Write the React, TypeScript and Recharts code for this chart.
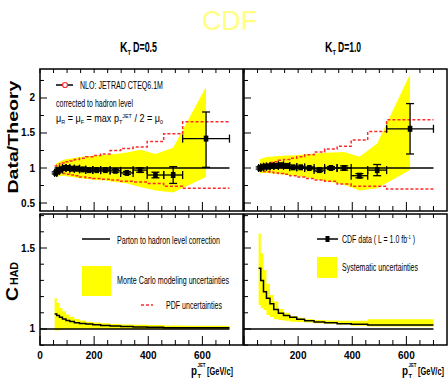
import React from "react";
import {
  Area,
  ComposedChart,
  ErrorBar,
  Line,
  ReferenceArea,
  Scatter,
  XAxis,
  YAxis,
} from "recharts";

const W = 448;
const H = 382;
const FONT = "'Liberation Sans Narrow', 'Liberation Sans', Arial, sans-serif";
const YELLOW = "#ffff00";
const RED = "#ff2a2a";

// pT bins [GeV/c]
const binEdges = [54, 62, 72, 83, 96, 110, 127, 146, 169, 195, 224, 259, 298, 344, 396, 457, 527, 700];
const binCenters = [58, 67, 77.5, 89.5, 103, 118.5, 136.5, 157.5, 182, 209.5, 241.5, 278.5, 321, 370, 426.5, 492, 613.5];
const nloRange = [54, 700];
const unityRange = [0, 700];

const xTicks = [0, 50, 100, 150, 200, 250, 300, 350, 400, 450, 500, 550, 600, 650, 700];
const xLabelsLeft = [0, 200, 400, 600];
const xLabelsRight = [200, 400, 600];
const ratioTicks = [0.5, 0.75, 1, 1.25, 1.5, 1.75, 2, 2.25];
const ratioLabels = [0.5, 1, 1.5, 2];
const chadTicks = [0.9, 1, 1.1, 1.2, 1.3, 1.4, 1.5, 1.6, 1.7];
const chadLabels = [1, 1.5];

// Data / Theory, kT D=0.5
const ratioD05 = [0.93, 0.96, 0.98, 1.0, 1.0, 0.99, 0.99, 0.98, 0.97, 0.97, 0.97, 0.96, 0.93, 0.97, 0.9, 0.9, 1.42];
const errD05Lo = [0.015, 0.015, 0.015, 0.015, 0.015, 0.015, 0.015, 0.015, 0.015, 0.015, 0.015, 0.02, 0.02, 0.03, 0.04, 0.12, 0.41];
const errD05Hi = [0.015, 0.015, 0.015, 0.015, 0.015, 0.015, 0.015, 0.015, 0.015, 0.015, 0.015, 0.02, 0.02, 0.03, 0.04, 0.12, 0.38];
const sysD05Lo = [0.86, 0.88, 0.89, 0.89, 0.88, 0.87, 0.86, 0.85, 0.84, 0.83, 0.82, 0.8, 0.78, 0.73, 0.68, 0.65, 0.87];
const sysD05Hi = [1.06, 1.08, 1.1, 1.12, 1.13, 1.14, 1.15, 1.16, 1.17, 1.18, 1.19, 1.2, 1.22, 1.26, 1.2, 1.29, 2.16];
const pdfD05Hi = [1.03, 1.04, 1.06, 1.07, 1.09, 1.1, 1.12, 1.14, 1.16, 1.18, 1.2, 1.25, 1.28, 1.3, 1.38, 1.49, 1.66];
const pdfD05Lo = [0.95, 0.94, 0.93, 0.92, 0.91, 0.9, 0.89, 0.87, 0.86, 0.85, 0.84, 0.83, 0.81, 0.8, 0.78, 0.74, 0.71];

// Data / Theory, kT D=1.0
const ratioD10 = [1.0, 1.01, 1.02, 1.02, 1.03, 1.03, 1.04, 1.03, 1.01, 1.01, 1.0, 0.97, 1.0, 1.0, 0.89, 0.97, 1.56];
const errD10Lo = [0.015, 0.015, 0.015, 0.015, 0.015, 0.015, 0.015, 0.015, 0.015, 0.015, 0.015, 0.02, 0.02, 0.03, 0.03, 0.08, 0.36];
const errD10Hi = [0.015, 0.015, 0.015, 0.015, 0.015, 0.015, 0.015, 0.015, 0.015, 0.015, 0.015, 0.02, 0.02, 0.03, 0.03, 0.08, 0.36];
const sysD10Lo = [0.92, 0.93, 0.93, 0.93, 0.92, 0.92, 0.91, 0.9, 0.89, 0.88, 0.86, 0.83, 0.8, 0.76, 0.68, 0.71, 0.97];
const sysD10Hi = [1.12, 1.14, 1.15, 1.16, 1.16, 1.17, 1.17, 1.18, 1.18, 1.19, 1.2, 1.21, 1.22, 1.23, 1.16, 1.35, 2.34];
const pdfD10Hi = [1.03, 1.04, 1.05, 1.06, 1.08, 1.09, 1.11, 1.12, 1.14, 1.16, 1.19, 1.23, 1.27, 1.31, 1.4, 1.52, 1.69];
const pdfD10Lo = [0.96, 0.955, 0.95, 0.945, 0.94, 0.93, 0.92, 0.91, 0.89, 0.87, 0.85, 0.83, 0.81, 0.77, 0.74, 0.74, 0.7];

// parton-to-hadron corrections
const chadD05 = [1.093, 1.083, 1.072, 1.062, 1.053, 1.046, 1.039, 1.034, 1.03, 1.026, 1.022, 1.018, 1.015, 1.012, 1.01, 1.008, 1.007];
const chadD05Lo = [0.99, 0.99, 0.995, 0.997, 1.0, 1.0, 1.0, 1.0, 1.0, 1.0, 1.0, 1.0, 1.0, 1.0, 1.0, 1.0, 1.0];
const chadD05Hi = [1.19, 1.16, 1.13, 1.11, 1.09, 1.075, 1.062, 1.052, 1.045, 1.04, 1.035, 1.03, 1.028, 1.026, 1.024, 1.022, 1.02];
const chadD10 = [1.375, 1.3, 1.23, 1.19, 1.155, 1.12, 1.097, 1.083, 1.072, 1.06, 1.05, 1.043, 1.039, 1.033, 1.029, 1.025, 1.025];
const chadD10Lo = [1.148, 1.128, 1.117, 1.086, 1.074, 1.06, 1.056, 1.05, 1.045, 1.043, 1.04, 1.035, 1.032, 1.028, 1.02, 1.016, 1.016];
const chadD10Hi = [1.59, 1.467, 1.364, 1.28, 1.21, 1.17, 1.123, 1.1, 1.08, 1.07, 1.06, 1.055, 1.052, 1.05, 1.051, 1.06, 1.06];

const last = (a: number[], i: number) => a[Math.min(i, a.length - 1)];

const pointRows = (vals: number[], lo: number[], hi: number[]) =>
  binCenters.map((pt, i) => ({
    pt,
    v: vals[i],
    ex: [pt - binEdges[i], binEdges[i + 1] - pt],
    ey: [lo[i], hi[i]],
  }));
const bandRows = (lo: number[], hi: number[]) =>
  binCenters.map((pt, i) => ({ pt, band: [lo[i], hi[i]] }));
const stepRows = (vals: number[]) => binEdges.map((pt, i) => ({ pt, v: last(vals, i) }));
const stepBandRows = (lo: number[], hi: number[]) =>
  binEdges.map((pt, i) => ({ pt, band: [last(lo, i), last(hi, i)] }));
const flatRows = (range: number[]) => range.map((pt) => ({ pt, v: 1 }));

function XTick(props: any) {
  const { x, y, payload, side, labels } = props;
  const v = payload.value;
  if (side === "top") {
    return <line x1={x} x2={x} y1={y} y2={y + 4} stroke="#000" />;
  }
  const major = v % 200 === 0;
  return (
    <g>
      <line x1={x} x2={x} y1={y} y2={y - (major ? 9 : 5)} stroke="#000" />
      {labels.includes(v) && (
        <text x={x} y={y + 14} textAnchor="middle" fontFamily={FONT} fontWeight="bold" fontSize={10} fill="#000">
          {v}
        </text>
      )}
    </g>
  );
}

function YTick(props: any) {
  const { x, y, payload, labels, show } = props;
  const v = payload.value;
  const major = labels.includes(v);
  return (
    <g>
      <line x1={x} x2={x + (major ? 7 : 4)} y1={y} y2={y} stroke="#000" />
      {show && major && (
        <text x={x - 5} y={y + 3.5} textAnchor="end" fontFamily={FONT} fontWeight="bold" fontSize={10} fill="#000">
          {v}
        </text>
      )}
    </g>
  );
}

const Square = (p: any) => <rect x={p.cx - 2.3} y={p.cy - 3} width={4.6} height={6} fill="#000" />;

function Panel(props: {
  box: number[];
  yDomain: [number, number];
  yTicks: number[];
  yLabels: number[];
  showY: boolean;
  xLabels: number[];
  children: React.ReactNode;
}) {
  const [l, t, r, b] = props.box;
  // axes get 1px each (a zero-sized axis is not drawn)
  return (
    <div style={{ position: "absolute", left: 0, top: 0 }}>
      <ComposedChart width={W} height={H} margin={{ left: l - 1, top: t - 1, right: W - r, bottom: H - b - 1 }}>
        <XAxis
          type="number"
          dataKey="pt"
          domain={[0, 750]}
          allowDataOverflow
          ticks={xTicks}
          interval={0}
          height={1}
          tickSize={0}
          tickMargin={0}
          axisLine={false}
          tickLine={false}
          tick={<XTick side="bottom" labels={props.xLabels} />}
        />
        <XAxis
          xAxisId="top"
          orientation="top"
          type="number"
          dataKey="pt"
          domain={[0, 750]}
          allowDataOverflow
          ticks={xTicks}
          interval={0}
          height={1}
          tickSize={0}
          tickMargin={0}
          axisLine={false}
          tickLine={false}
          tick={<XTick side="top" labels={[]} />}
        />
        <YAxis
          type="number"
          dataKey="v"
          domain={props.yDomain}
          allowDataOverflow
          ticks={props.yTicks}
          interval={0}
          width={1}
          tickSize={0}
          tickMargin={0}
          axisLine={false}
          tickLine={false}
          tick={<YTick labels={props.yLabels} show={props.showY} />}
        />
        {props.children}
        <ReferenceArea
          x1={0}
          x2={750}
          y1={props.yDomain[0]}
          y2={props.yDomain[1]}
          fill="none"
          stroke="#000"
          strokeWidth={1.5}
          ifOverflow="visible"
        />
      </ComposedChart>
    </div>
  );
}

function RatioSeries(p: { vals: number[]; lo: number[]; hi: number[]; sLo: number[]; sHi: number[]; pHi: number[]; pLo: number[] }) {
  return (
    <>
      <Area data={bandRows(p.sLo, p.sHi)} dataKey="band" type="linear" stroke="none" fill={YELLOW} fillOpacity={1} isAnimationActive={false} />
      <Line data={stepRows(p.pHi)} dataKey="v" type="stepAfter" stroke={RED} strokeWidth={1.5} strokeDasharray="3 2" dot={false} isAnimationActive={false} />
      <Line data={stepRows(p.pLo)} dataKey="v" type="stepAfter" stroke={RED} strokeWidth={1.5} strokeDasharray="3 2" dot={false} isAnimationActive={false} />
      <Line data={flatRows(nloRange)} dataKey="v" type="linear" stroke="#000" strokeWidth={1.5} dot={false} isAnimationActive={false} />
      <Scatter data={pointRows(p.vals, p.lo, p.hi)} fill="#000" shape={Square} isAnimationActive={false}>
        <ErrorBar dataKey="ex" direction="x" width={4} stroke="#000" strokeWidth={1.3} isAnimationActive={false} />
        <ErrorBar dataKey="ey" direction="y" width={4} stroke="#000" strokeWidth={1.3} isAnimationActive={false} />
      </Scatter>
    </>
  );
}

function ChadSeries(p: { vals: number[]; lo: number[]; hi: number[] }) {
  return (
    <>
      <Area data={stepBandRows(p.lo, p.hi)} dataKey="band" type="stepAfter" stroke="none" fill={YELLOW} fillOpacity={1} isAnimationActive={false} />
      <Line data={flatRows(unityRange)} dataKey="v" type="linear" stroke="#000" strokeWidth={1.5} dot={false} isAnimationActive={false} />
      <Line data={stepRows(p.vals)} dataKey="v" type="stepAfter" stroke="#000" strokeWidth={1.5} dot={false} isAnimationActive={false} />
    </>
  );
}

function Txt(p: { x: number; y: number; w?: number; size?: number; bold?: boolean; anchor?: string; fill?: string; children: React.ReactNode; transform?: string }) {
  return (
    <text
      x={p.x}
      y={p.y}
      fontFamily={FONT}
      fontSize={p.size ?? 10}
      fontWeight={p.bold ? "bold" : "normal"}
      textAnchor={p.anchor ?? "start"}
      fill={p.fill ?? "#000"}
      textLength={p.w}
      lengthAdjust={p.w ? "spacingAndGlyphs" : undefined}
      transform={p.transform}
    >
      {p.children}
    </text>
  );
}

function XTitle({ x }: { x: number }) {
  return (
    <g>
      <Txt x={x} y={375} size={12} bold w={6}>p</Txt>
      <Txt x={x + 6.5} y={378} size={6} bold w={3.5}>T</Txt>
      <Txt x={x + 6.5} y={367} size={6} bold w={8}>JET</Txt>
      <Txt x={x + 16} y={375} size={11} bold w={26}>[GeV/c]</Txt>
    </g>
  );
}

function Overlay() {
  return (
    <svg width={W} height={H} style={{ position: "absolute", left: 0, top: 0, pointerEvents: "none" }}>
      <Txt x={229.5} y={30} size={27} anchor="middle" fill="#ffff80" w={55}>CDF</Txt>

      <Txt x={120} y={52} size={14} bold w={7.5}>K</Txt>
      <Txt x={127.5} y={55} size={7} bold w={3.5}>T</Txt>
      <Txt x={133} y={52} size={14} bold w={24}>D=0.5</Txt>
      <Txt x={325} y={52} size={14} bold w={7.5}>K</Txt>
      <Txt x={332.5} y={55} size={7} bold w={3.5}>T</Txt>
      <Txt x={338} y={52} size={14} bold w={23}>D=1.0</Txt>

      <Txt x={0} y={0} size={15} bold anchor="middle" w={113} transform="translate(18,137) rotate(-90)">Data/Theory</Txt>
      <g transform="translate(18,301) rotate(-90)">
        <Txt x={0} y={0} size={16} bold w={14}>C</Txt>
        <Txt x={16} y={0} size={10} bold w={23}>HAD</Txt>
      </g>

      <XTitle x={191} />
      <XTitle x={402} />

      {/* NLO legend */}
      <line x1={56} x2={73} y1={85} y2={85} stroke="#000" strokeWidth={1.5} />
      <circle cx={65} cy={85} r={2.5} fill="#fff" stroke={RED} strokeWidth={1.2} />
      <Txt x={80} y={88.5} w={83}>NLO: JETRAD CTEQ6.1M</Txt>
      <Txt x={56} y={106.5} w={77}>corrected to hadron level</Txt>
      <text x={56} y={122} fontFamily={FONT} fontSize={10} textLength={107} lengthAdjust="spacingAndGlyphs">
        μ<tspan fontSize={6} dy={2}>R</tspan>
        <tspan dy={-2}> = μ</tspan>
        <tspan fontSize={6} dy={2}>F</tspan>
        <tspan dy={-2}> = max p</tspan>
        <tspan fontSize={6} dy={2}>T</tspan>
        <tspan fontSize={6} dy={-6}>JET</tspan>
        <tspan dy={4}> / 2 = μ</tspan>
        <tspan fontSize={6} dy={2}>0</tspan>
      </text>

      {/* C_HAD D=0.5 legend */}
      <line x1={82} x2={110} y1={239} y2={239} stroke="#000" strokeWidth={1.5} />
      <Txt x={117} y={243.5} w={103}>Parton to hadron level correction</Txt>
      <rect x={82} y={266} width={29} height={30} fill={YELLOW} />
      <Txt x={117} y={284} w={112}>Monte Carlo modeling uncertainties</Txt>
      <line x1={141} x2={153} y1={305} y2={305} stroke={RED} strokeWidth={1.5} strokeDasharray="3 2" />
      <Txt x={166} y={309} w={56}>PDF uncertainties</Txt>

      {/* C_HAD D=1.0 legend */}
      <line x1={317} x2={338} y1={239} y2={239} stroke="#000" strokeWidth={1.5} />
      <rect x={325.5} y={236} width={4} height={6} fill="#000" />
      <text x={342} y={243} fontFamily={FONT} fontSize={10} textLength={73} lengthAdjust="spacingAndGlyphs">
        CDF data ( L = 1.0 fb<tspan fontSize={6} dy={-4}>-1</tspan>
        <tspan dy={4}> )</tspan>
      </text>
      <rect x={317} y={257} width={20} height={21} fill={YELLOW} />
      <Txt x={342} y={270.5} w={76}>Systematic uncertainties</Txt>
    </svg>
  );
}

export default function App() {
  return (
    <div style={{ position: "absolute", left: 0, top: 0, width: W, height: H, background: "#fff", overflow: "hidden" }}>
      <Panel box={[40, 69, 243, 211]} yDomain={[0.386, 2.414]} yTicks={ratioTicks} yLabels={ratioLabels} showY xLabels={[]}>
        <RatioSeries vals={ratioD05} lo={errD05Lo} hi={errD05Hi} sLo={sysD05Lo} sHi={sysD05Hi} pHi={pdfD05Hi} pLo={pdfD05Lo} />
      </Panel>
      <Panel box={[244, 69, 447, 211]} yDomain={[0.386, 2.414]} yTicks={ratioTicks} yLabels={ratioLabels} showY={false} xLabels={[]}>
        <RatioSeries vals={ratioD10} lo={errD10Lo} hi={errD10Hi} sLo={sysD10Lo} sHi={sysD10Hi} pHi={pdfD10Hi} pLo={pdfD10Lo} />
      </Panel>
      <Panel box={[40, 214, 243, 345]} yDomain={[0.901, 1.71]} yTicks={chadTicks} yLabels={chadLabels} showY xLabels={xLabelsLeft}>
        <ChadSeries vals={chadD05} lo={chadD05Lo} hi={chadD05Hi} />
      </Panel>
      <Panel box={[244, 214, 447, 345]} yDomain={[0.901, 1.71]} yTicks={chadTicks} yLabels={chadLabels} showY={false} xLabels={xLabelsRight}>
        <ChadSeries vals={chadD10} lo={chadD10Lo} hi={chadD10Hi} />
      </Panel>
      <Overlay />
    </div>
  );
}
